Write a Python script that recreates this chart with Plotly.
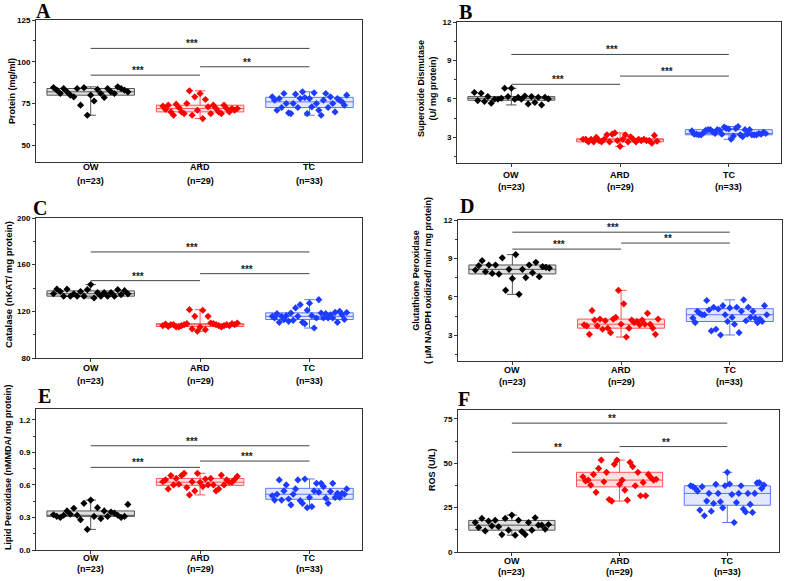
import plotly.graph_objects as go

# ---------------- data ----------------
groups = ["OW", "ARD", "TC"]
group_n = ["(n=23)", "(n=29)", "(n=33)"]

protein_ow = [84.6, 83.0, 81.0, 84.0, 82.0, 80.0, 79.0, 84.0, 74.0, 84.5, 68.0, 80.0, 76.5, 83.5, 81.0, 78.6, 84.0, 82.0, 81.0, 85.0, 84.0, 83.0, 82.0]
protein_ard = [73.4, 71.4, 74.0, 70.0, 68.0, 74.6, 72.6, 70.0, 69.0, 75.0, 82.6, 68.0, 79.0, 71.0, 81.0, 66.0, 77.4, 73.0, 69.0, 74.0, 72.0, 70.0, 69.0, 74.0, 72.0, 70.0, 72.0, 71.0, 72.0]
protein_tc = [79.0, 77.0, 71.0, 78.0, 72.6, 81.0, 75.0, 69.4, 69.0, 75.0, 80.6, 72.6, 78.0, 82.0, 78.6, 69.0, 78.0, 73.0, 81.4, 75.0, 71.0, 68.0, 77.0, 81.0, 72.6, 79.0, 75.0, 70.0, 78.0, 77.0, 76.0, 74.0, 80.0]

sod_ow = [6.5, 5.87, 6.44, 5.8, 6.18, 5.66, 5.97, 5.97, 6.05, 6.83, 6.18, 6.83, 5.97, 6.13, 5.97, 6.23, 5.61, 6.18, 5.72, 6.13, 5.53, 6.13, 6.0]
sod_ard = [2.85, 2.85, 2.65, 2.85, 2.65, 3.0, 2.75, 2.65, 2.85, 3.2, 2.65, 3.25, 3.35, 2.75, 2.3, 2.85, 3.2, 2.65, 3.05, 2.85, 2.65, 2.85, 2.75, 2.85, 2.75, 2.75, 2.55, 3.15, 2.7]
sod_tc = [3.5, 3.25, 3.25, 3.2, 3.2, 3.35, 3.55, 3.6, 3.6, 3.45, 3.3, 3.6, 3.55, 3.25, 3.8, 3.7, 3.65, 2.85, 3.1, 3.7, 3.85, 3.2, 3.05, 3.6, 3.25, 3.6, 3.2, 3.2, 3.2, 3.3, 3.25, 3.4, 3.3]

cat_ow = [135.1, 139.0, 137.0, 132.9, 139.0, 132.9, 135.0, 133.0, 137.0, 133.0, 138.6, 142.9, 131.4, 136.0, 133.0, 136.0, 133.0, 136.0, 133.0, 138.6, 134.3, 137.7, 135.0]
cat_ard = [107.7, 109.1, 107.1, 108.6, 108.6, 106.6, 106.6, 107.7, 108.6, 109.4, 121.4, 104.9, 115.7, 102.9, 106.6, 120.9, 104.3, 115.7, 110.0, 109.4, 108.6, 107.7, 106.6, 107.7, 108.6, 107.7, 109.4, 108.6, 110.0]
cat_tc = [115.7, 114.3, 118.0, 110.6, 115.7, 112.9, 116.3, 111.4, 118.6, 112.3, 122.9, 115.7, 125.7, 110.6, 109.4, 120.9, 127.0, 116.3, 105.7, 114.3, 130.0, 118.6, 114.3, 118.0, 114.3, 117.1, 114.3, 119.1, 110.6, 120.0, 117.0, 113.0, 119.0]

gpx_ow = [8.1, 8.44, 8.83, 7.96, 8.49, 7.83, 8.49, 7.78, 9.05, 6.51, 8.15, 7.43, 9.3, 6.2, 8.15, 7.51, 8.49, 7.88, 8.7, 7.57, 8.36, 8.31, 8.25]
gpx_ard = [3.82, 3.74, 3.08, 4.93, 4.19, 3.74, 4.27, 3.48, 4.14, 3.56, 3.21, 4.27, 4.4, 6.51, 3.87, 5.46, 2.87, 3.56, 4.19, 4.0, 4.08, 3.82, 4.19, 3.87, 4.72, 3.87, 3.56, 3.08, 4.27]
gpx_tc = [4.35, 4.0, 4.88, 4.72, 4.61, 4.61, 5.72, 4.98, 3.35, 5.19, 3.48, 5.06, 3.03, 5.32, 4.61, 4.08, 5.14, 4.4, 3.87, 5.19, 3.21, 4.88, 5.77, 4.14, 5.19, 4.4, 4.88, 4.35, 4.0, 4.27, 4.08, 5.32, 4.61]

lpo_ow = [0.325, 0.31, 0.30, 0.32, 0.36, 0.33, 0.385, 0.32, 0.28, 0.43, 0.19, 0.46, 0.31, 0.39, 0.29, 0.36, 0.31, 0.35, 0.34, 0.32, 0.30, 0.31, 0.42]
lpo_ard = [0.63, 0.646, 0.563, 0.686, 0.60, 0.66, 0.606, 0.686, 0.707, 0.576, 0.508, 0.63, 0.545, 0.707, 0.625, 0.585, 0.655, 0.60, 0.66, 0.60, 0.545, 0.563, 0.69, 0.60, 0.646, 0.625, 0.625, 0.65, 0.68]
lpo_tc = [0.50, 0.46, 0.514, 0.646, 0.46, 0.545, 0.60, 0.47, 0.416, 0.514, 0.563, 0.646, 0.455, 0.43, 0.655, 0.39, 0.484, 0.40, 0.545, 0.615, 0.533, 0.615, 0.585, 0.478, 0.43, 0.539, 0.615, 0.484, 0.523, 0.484, 0.523, 0.514, 0.563]

ros_ow = [16.6, 13.8, 18.9, 11.9, 17.4, 14.7, 17.9, 14.2, 9.8, 18.9, 12.3, 20.8, 9.5, 17.9, 11.5, 9.8, 16.6, 12.3, 19.3, 15.1, 15.1, 12.9, 15.5]
ros_ard = [42.4, 40.0, 40.5, 37.7, 43.7, 33.6, 47.1, 51.8, 39.6, 44.9, 29.6, 28.7, 49.4, 51.8, 38.1, 40.5, 34.9, 29.2, 50.5, 48.1, 37.3, 44.9, 31.7, 39.2, 31.7, 43.7, 41.8, 40.5, 41.0]
ros_tc = [37.3, 36.8, 35.8, 34.3, 23.6, 36.8, 20.4, 28.7, 33.0, 23.0, 27.3, 38.1, 33.0, 28.3, 24.9, 37.3, 44.9, 38.3, 32.4, 16.6, 27.9, 33.0, 37.3, 24.2, 22.6, 33.0, 26.8, 22.3, 33.0, 38.9, 39.1, 35.8, 37.7]

# significance brackets: (from group, to group, value, label)
protein_sig = [(1, 3, 108, "***"), (1, 2, 92, "***"), (2, 3, 97, "**")]
sod_sig = [(1, 3, 9.47, "***"), (1, 2, 7.14, "***"), (2, 3, 7.78, "***")]
cat_sig = [(1, 3, 170.9, "***"), (1, 2, 146.3, "***"), (2, 3, 152.3, "***")]
gpx_sig = [(1, 3, 11.05, "***"), (1, 2, 9.73, "***"), (2, 3, 10.2, "**")]
lpo_sig = [(1, 3, 0.961, "***"), (1, 2, 0.762, "***"), (2, 3, 0.82, "***")]
ros_sig = [(1, 3, 72.6, "**"), (1, 2, 56.2, "**"), (2, 3, 59.4, "**")]

# ---------------- layout / style ----------------
W, H = 787, 581
FONT = "Liberation Sans"
colors = ["#000000", "#FF0000", "#1E3CFF"]
box_lines = ["#555555", "#FF5555", "#5A78FF"]
fills = ["rgba(0,0,0,0.12)", "rgba(255,0,0,0.12)", "rgba(30,60,255,0.12)"]
SPREAD = 0.68   # horizontal spread of the points inside each box (x units)

panels = [
    dict(letter="A", title="Protein (mg/ml)", data=[protein_ow, protein_ard, protein_tc],
         yrange=[40, 125], dtick=25, fmt="d", sig=protein_sig, tsize=9,
         box=(36, 20, 362, 162), let=(43.5, 11), tpos=(12, 91), lab=(167, 181)),
    dict(letter="B", title="Superoxide Dismutase<br>(U/ mg protein)", data=[sod_ow, sod_ard, sod_tc],
         yrange=[1, 12], dtick=3, fmt="d", sig=sod_sig, tsize=9,
         box=(457, 22, 781, 163), let=(465, 12), tpos=(427, 88), lab=(175, 187)),
    dict(letter="C", title="Catalase (nKAT/ mg protein)", data=[cat_ow, cat_ard, cat_tc],
         yrange=[80, 200], dtick=40, fmt="d", sig=cat_sig, tsize=9.5,
         box=(36, 218, 362, 358), let=(40, 208), tpos=(8, 285), lab=(368, 381)),
    dict(letter="D", title="Glutathione Peroxidase<br>( \u03bcM NADPH oxidized/ min/ mg protein)", data=[gpx_ow, gpx_ard, gpx_tc],
         yrange=[1, 12], dtick=3, fmt="d", sig=gpx_sig, tsize=9,
         box=(458, 220, 782, 361), let=(467, 206), tpos=(422, 281), lab=(370, 382)),
    dict(letter="E", title="Lipid Peroxidase (nMMDA/ mg protein)", data=[lpo_ow, lpo_ard, lpo_tc],
         yrange=[0, 1.3], dtick=0.3, fmt=".1f", sig=lpo_sig, tsize=9,
         box=(36, 409, 362, 550), let=(44, 396), tpos=(8, 467), lab=(558, 569)),
    dict(letter="F", title="ROS (U/L)", data=[ros_ow, ros_ard, ros_tc],
         yrange=[0, 80], dtick=25, fmt="d", sig=ros_sig, tsize=9,
         box=(458, 410, 779, 552), let=(464, 399), tpos=(432, 470), lab=(561, 572)),
]

fig = go.Figure()
layout = dict(template="none", width=W, height=H, margin=dict(l=0, r=0, t=0, b=0, pad=0),
              paper_bgcolor="white", plot_bgcolor="white", showlegend=False,
              font=dict(family=FONT, color="#000000"))
shapes, annotations = [], []


def px(x):
    return x / W


def py(y):
    return 1 - y / H


for i, p in enumerate(panels, start=1):
    xa = "x" if i == 1 else f"x{i}"
    ya = "y" if i == 1 else f"y{i}"
    for g in range(3):
        vals = p["data"][g]
        n = len(vals)
        fig.add_trace(go.Box(
            x=[g + 1] * n, y=vals, xaxis=xa, yaxis=ya,
            width=0.8, whiskerwidth=0.12, boxpoints=False,
            fillcolor=fills[g], line=dict(color=box_lines[g], width=1),
            hoverinfo="skip",
        ))
        # points spread evenly across the box, in the order they are listed
        xs = [g + 1 + (k / (n - 1) - 0.5) * SPREAD for k in range(n)]
        fig.add_trace(go.Scatter(
            x=xs, y=vals, xaxis=xa, yaxis=ya, mode="markers",
            marker=dict(symbol="diamond", size=5.5, color=colors[g], line=dict(width=0)),
            hoverinfo="y",
        ))
    l, t, r, b = p["box"]
    axis_common = dict(showline=True, mirror=True, linecolor="#333333", linewidth=1,
                       showgrid=False, zeroline=False, ticks="outside", ticklen=3,
                       tickcolor="#333333", automargin=False)
    layout[f"xaxis{'' if i == 1 else i}"] = dict(
        axis_common, domain=[px(l), px(r)], anchor=ya, range=[0.5, 3.48],
        tickvals=[1, 2, 3], showticklabels=False)
    layout[f"yaxis{'' if i == 1 else i}"] = dict(
        axis_common, domain=[py(b), py(t)], anchor=xa, range=p["yrange"],
        tick0=0, dtick=p["dtick"], tickformat=p["fmt"],
        minor=dict(ticks="outside", ticklen=2, dtick=p["dtick"] / 2, tickcolor="#333333"),
        tickfont=dict(family=FONT, size=8, weight="bold", color="#000000"))
    # category labels below each panel
    for g in range(3):
        for txt, yy in ((groups[g], p["lab"][0]), (group_n[g], p["lab"][1])):
            annotations.append(dict(xref=xa, yref="paper", x=g + 1, y=py(yy), text=txt,
                                    showarrow=False, xanchor="center", yanchor="middle",
                                    font=dict(family=FONT, size=9, weight="bold", color="#000000")))
    # significance brackets
    for (g0, g1, yv, lab) in p["sig"]:
        shapes.append(dict(type="line", xref=xa, yref=ya, x0=g0, x1=g1, y0=yv, y1=yv,
                           line=dict(color="#444444", width=1)))
        annotations.append(dict(xref=xa, yref=ya, x=(g0 + g1) / 2 - 0.07, y=yv, text=lab,
                                showarrow=False, yanchor="bottom", yshift=-3,
                                font=dict(family=FONT, size=10, weight="bold", color="#222222")))
    annotations.append(dict(xref="paper", yref="paper", x=px(p["let"][0]), y=py(p["let"][1]),
                            text=p["letter"], showarrow=False, xanchor="center", yanchor="middle",
                            font=dict(family="Liberation Serif", size=20, weight="bold", color="#000000")))
    annotations.append(dict(xref="paper", yref="paper", x=px(p["tpos"][0]), y=py(p["tpos"][1]),
                            text=p["title"], showarrow=False, xanchor="center", yanchor="middle",
                            textangle=-90,
                            font=dict(family=FONT, size=p["tsize"], weight="bold", color="#000000")))

layout["shapes"] = shapes
layout["annotations"] = annotations
fig.update_layout(**layout)
fig.write_html(
    "out.html",
    config={"displayModeBar": False},
    post_script="document.body.style.margin='0';document.body.style.padding='0';"
                "document.body.style.overflow='hidden';",
)
